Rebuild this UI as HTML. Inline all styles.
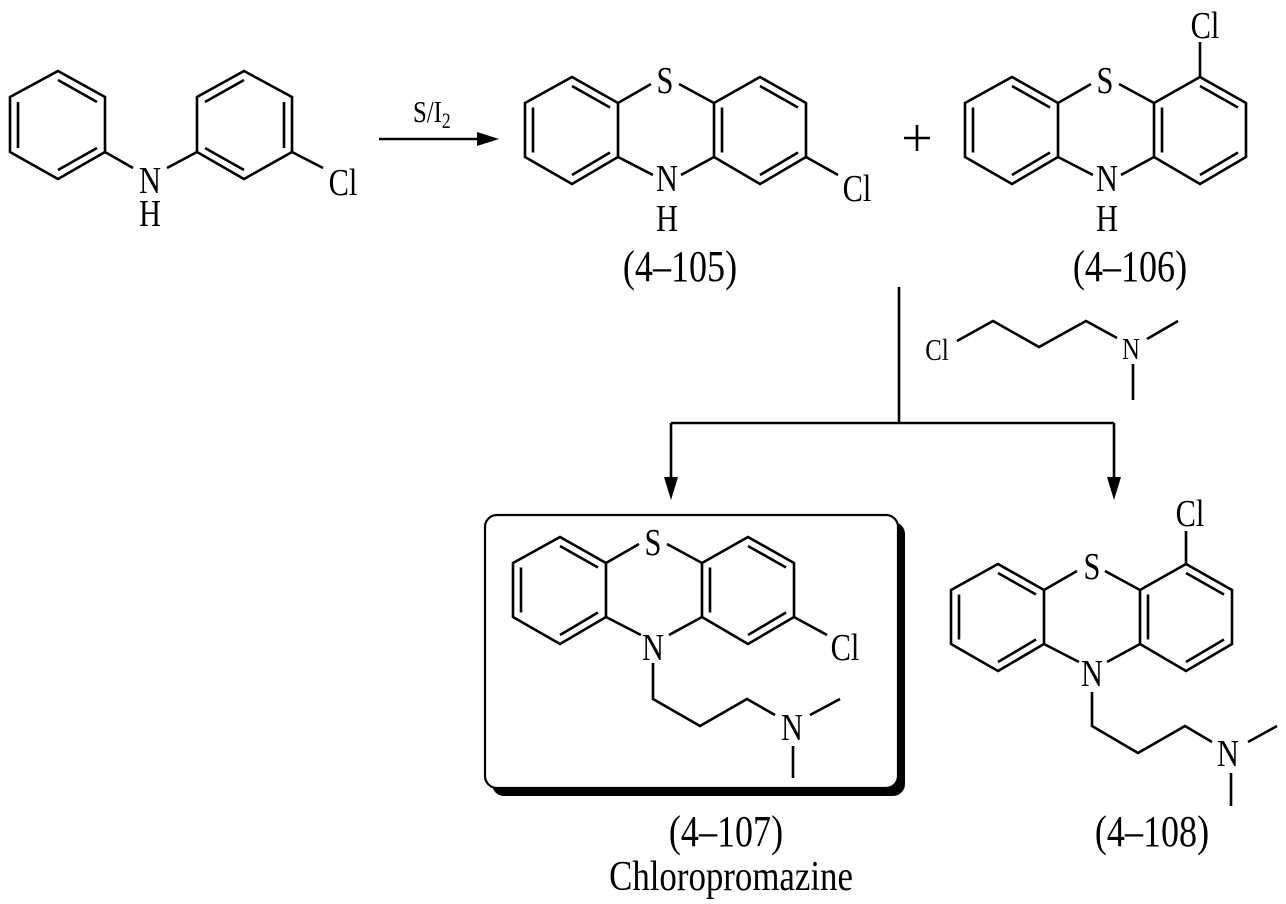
<!DOCTYPE html>
<html><head><meta charset="utf-8">
<style>
html,body{margin:0;padding:0;background:#fff;}
svg{display:block;}
text{font-family:"Liberation Serif",serif;fill:#000;}
.a{font-size:38px;}
.s{font-size:31px;}
.l{font-size:44px;}
</style></head>
<body>
<svg width="1286" height="904" viewBox="0 0 1286 904" xmlns="http://www.w3.org/2000/svg">
<defs>
<g id="ptz" fill="none" stroke="#000" stroke-width="2.6" stroke-linejoin="miter">
<path d="M572,77 L618,103 L618,157 L572,184 L525,157 L525,103 Z"/>
<path d="M714,103 L760,77 L806,103 L806,157 L760,184 L714,157 Z"/>
<path d="M572,86 L610,107.5 M610,152.5 L572,175 M533,152.5 L533,107.5"/>
<path d="M722,107.5 L722,152.5 M760,86 L798,107.5 M798,152.5 L760,175"/>
<path d="M618,103 L651,84 M679,84 L714,103 M618,157 L653,175 M681,175 L714,157"/>
</g>
</defs>

<g fill="none" stroke="#000" stroke-width="2.6">
<path d="M58,71 L105,97 L105,152 L58,179 L10,152 L10,97 Z"/>
<path d="M58,80 L97,102 M97,148 L58,170 M18,148 L18,102"/>
<path d="M244,71 L292,97 L292,152 L244,179 L197,152 L197,97 Z"/>
<path d="M244,80 L205,102 M284,102 L284,148 M205,148 L244,170"/>
<path d="M105,152 L133,168 M167,168 L197,152 M292,152 L323,168"/>
<path d="M379,139 L482,139"/>
<path d="M904,138 L930,138 M917,125 L917,151"/>
<path d="M806,157 L838,175"/>
<path d="M1200,77 L1200,42"/>
<path d="M957,341 L993,321 L1039,347 L1086,321 L1117,338 M1147,339 L1178,321 M1133,364 L1133,400"/>
<path d="M899,287 L899,423 M671,423 L1114,423 M671,423 L671,482 M1114,423 L1114,482"/>
<path d="M1186,564 L1186,531 M1092,692 L1092,726 L1138,753 L1185,726 L1212,742 M1248,742 L1277,726 M1231,773 L1231,806"/>
</g>
<g fill="#000">
<polygon points="499,139 477,132 477,146"/>
<polygon points="671,500 664,477 678,477"/>
<polygon points="1114,500 1107,477 1121,477"/>
</g>

<use href="#ptz"/>
<use href="#ptz" transform="translate(440,0)"/>
<use href="#ptz" transform="translate(426,487)"/>

<rect x="492" y="522" width="413" height="274" rx="12" fill="#000"/>
<rect x="485" y="515" width="413" height="273" rx="12" fill="#fff" stroke="#000" stroke-width="2.2"/>
<use href="#ptz" transform="translate(-12,460)"/>
<g fill="none" stroke="#000" stroke-width="2.6">
<path d="M794,617 L827,635 M653,663 L653,699 L700,726 L747,699 L775,715 M810,715 L840,699 M793,746 L793,778"/>
</g>

<text class="a" text-anchor="middle" transform="translate(150,193) scale(.8,1)">N</text>
<text class="a" text-anchor="middle" transform="translate(150,226) scale(.8,1)">H</text>
<text class="a" text-anchor="middle" transform="translate(343,195) scale(.8,1)">Cl</text>
<text class="s" transform="translate(413,122) scale(.8,1)">S/I<tspan dy="6" style="font-size:22px">2</tspan></text>

<text class="a" text-anchor="middle" transform="translate(665,93) scale(.8,1)">S</text>
<text class="a" text-anchor="middle" transform="translate(667,191) scale(.8,1)">N</text>
<text class="a" text-anchor="middle" transform="translate(667,231) scale(.8,1)">H</text>
<text class="a" text-anchor="middle" transform="translate(857,201) scale(.8,1)">Cl</text>
<text class="l" text-anchor="middle" transform="translate(680,281) scale(.82,1)">(4–105)</text>

<text class="a" text-anchor="middle" transform="translate(1105,93) scale(.8,1)">S</text>
<text class="a" text-anchor="middle" transform="translate(1107,191) scale(.8,1)">N</text>
<text class="a" text-anchor="middle" transform="translate(1107,231) scale(.8,1)">H</text>
<text class="a" text-anchor="middle" transform="translate(1205,38) scale(.8,1)">Cl</text>
<text class="l" text-anchor="middle" transform="translate(1130,281) scale(.82,1)">(4–106)</text>

<text class="s" text-anchor="middle" transform="translate(937,360) scale(.8,1)">Cl</text>
<text class="s" text-anchor="middle" transform="translate(1131,359) scale(.8,1)">N</text>

<text class="a" text-anchor="middle" transform="translate(653,555) scale(.8,1)">S</text>
<text class="a" text-anchor="middle" transform="translate(653,660) scale(.8,1)">N</text>
<text class="a" text-anchor="middle" transform="translate(845,660) scale(.8,1)">Cl</text>
<text class="a" text-anchor="middle" transform="translate(792,740) scale(.8,1)">N</text>
<text class="l" text-anchor="middle" transform="translate(726,846) scale(.82,1)">(4–107)</text>
<text class="l" text-anchor="middle" style="font-size:42px" transform="translate(731,890) scale(.83,1)">Chloropromazine</text>

<text class="a" text-anchor="middle" transform="translate(1092,579) scale(.8,1)">S</text>
<text class="a" text-anchor="middle" transform="translate(1092,686) scale(.8,1)">N</text>
<text class="a" text-anchor="middle" transform="translate(1190,526) scale(.8,1)">Cl</text>
<text class="a" text-anchor="middle" transform="translate(1228,766) scale(.8,1)">N</text>
<text class="l" text-anchor="middle" transform="translate(1152,846) scale(.82,1)">(4–108)</text>
</svg>
</body></html>
